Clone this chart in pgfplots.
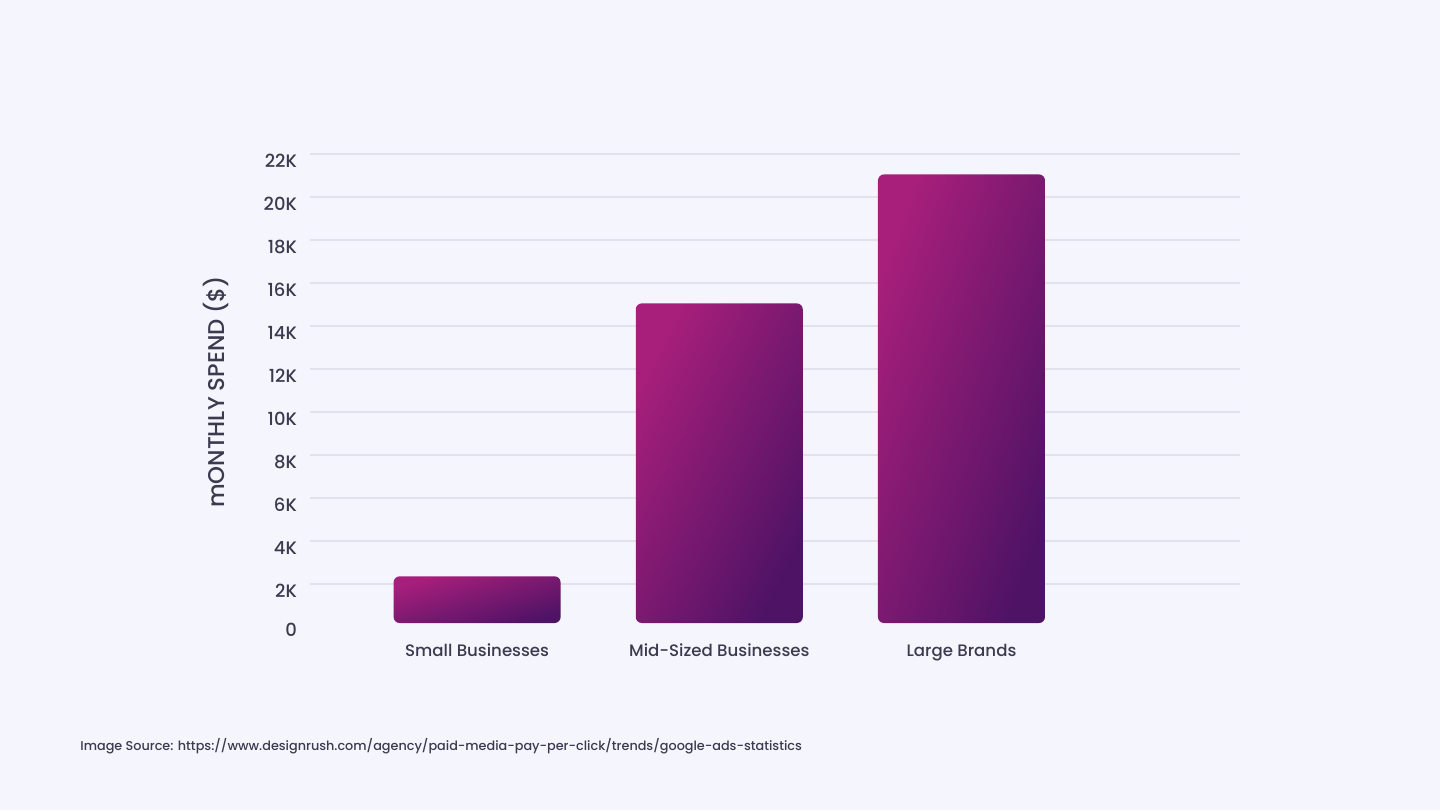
\documentclass[border=0pt]{standalone}
\usepackage{pgfplots}
\pgfplotsset{compat=1.18}
\usepackage{fontspec}
\setmainfont{Poppins}[UprightFont={* Medium}]
\definecolor{bg}{HTML}{F5F6FD}
\definecolor{gridc}{HTML}{E1E2EB}
\definecolor{txt}{HTML}{3B3A4E}
\definecolor{barA}{HTML}{A81F7B}
\definecolor{barB}{HTML}{4E1365}
% one style per bar, shading angle follows the bar's shape (diagonal gradient)
\pgfplotsset{purplebar/.style={ybar, bar width=83.5pt, bar shift=0pt, draw=none,
    top color=barA, bottom color=barB, shading angle=#1, rounded corners=3pt}}
\begin{document}
\begin{tikzpicture}
\fill[bg] (0,0) rectangle (720pt,405pt);
\useasboundingbox (0,0) rectangle (720pt,405pt);
\begin{axis}[
    at={(155pt,93.5pt)}, anchor=south west,
    scale only axis,
    width=465pt, height=234.5pt,
    xmin=-0.69, xmax=3.15,
    ymin=180, ymax=22000,
    xtick={0,1,2},
    xticklabels={Small Businesses,Mid-Sized Businesses,Large Brands},
    ytick={2000,4000,...,22000},
    yticklabels={2K,4K,6K,8K,10K,12K,14K,16K,18K,20K,22K},
    extra y ticks={180},
    extra y tick labels={0},
    extra y tick style={grid=none},
    scaled y ticks=false,
    ymajorgrids,
    grid style={gridc, line width=0.75pt},
    axis line style={draw=none},
    major tick length=0pt,
    ticklabel style={text=txt},
    yticklabel style={font=\fontsize{9}{10}\selectfont, xshift=-3pt, yshift=-3.5pt},
    xticklabel style={font=\fontsize{8.3}{10}\selectfont, yshift=-7pt},
    ylabel={mONTHLY SPEND (\$)},
    ylabel style={at={(axis description cs:-0.101,0.4925)}, anchor=center,
        font=\fontsize{11.4}{12}\selectfont, text=txt},
]
\addplot[purplebar=17] coordinates {(0,2350)};
\addplot[purplebar=63] coordinates {(1,15050)};
\addplot[purplebar=70] coordinates {(2,21050)};
\end{axis}
\node[anchor=west, inner sep=0pt, font=\fontsize{6.4}{7}\selectfont, text=txt]
    at (40pt,32pt) {Image Source: https://www.designrush.com/agency/paid-media-pay-per-click/trends/google-ads-statistics};
\end{tikzpicture}
\end{document}
